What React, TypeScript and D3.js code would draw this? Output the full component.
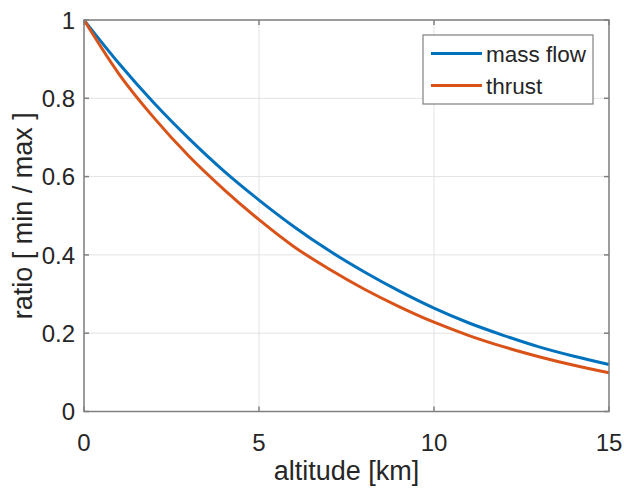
import React from "react";
import * as d3 from "d3";

const altitudes = [0, 1, 2, 3, 4, 5, 6, 7, 8, 9, 10, 11, 12, 13, 14, 15];
const massFlow = [1.0, 0.889, 0.788, 0.697, 0.614, 0.54, 0.472, 0.411, 0.357, 0.308, 0.264, 0.226, 0.194, 0.165, 0.141, 0.12];
const thrust = [1.0, 0.862, 0.75, 0.652, 0.567, 0.49, 0.421, 0.364, 0.313, 0.268, 0.228, 0.194, 0.165, 0.14, 0.118, 0.099];
const xTicks = [0, 5, 10, 15];
const yTicks = [0, 0.2, 0.4, 0.6, 0.8, 1];
const seriesNames = ["mass flow", "thrust"];
const seriesColors = ["#0072BD", "#D95319"];

const W = 624;
const H = 490;
const M = { left: 84, right: 609, top: 20, bottom: 411.5 };
const FONT = "'Liberation Sans', Arial, Helvetica, sans-serif";

export default function App() {
  const x = d3.scaleLinear().domain([0, 15]).range([M.left, M.right]);
  const y = d3.scaleLinear().domain([0, 1]).range([M.bottom, M.top]);
  const line = d3
    .line<number>()
    .x((_, i) => x(altitudes[i]))
    .y((d) => y(d))
    .curve(d3.curveMonotoneX);
  const series = [massFlow, thrust];
  const axisColor = "#808080";
  const textColor = "#262626";
  const tickLen = 5;

  return (
    <svg width={W} height={H} style={{ position: "absolute", left: 0, top: 0, background: "#fff" }}>
      <rect x={0} y={0} width={W} height={H} fill="#fff" />
      {/* grid */}
      {xTicks.map((t) => (
        <line key={"gx" + t} x1={x(t)} x2={x(t)} y1={M.top} y2={M.bottom} stroke="#e3e3e3" strokeWidth={1} />
      ))}
      {yTicks.map((t) => (
        <line key={"gy" + t} x1={M.left} x2={M.right} y1={y(t)} y2={y(t)} stroke="#e3e3e3" strokeWidth={1} />
      ))}
      {/* lines */}
      {series.map((s, i) => (
        <path key={"s" + i} d={line(s) || ""} fill="none" stroke={seriesColors[i]} strokeWidth={3} />
      ))}
      {/* box */}
      <rect x={M.left} y={M.top} width={M.right - M.left} height={M.bottom - M.top} fill="none" stroke={axisColor} strokeWidth={1.5} />
      {/* ticks */}
      {xTicks.map((t) => (
        <g key={"tx" + t}>
          <line x1={x(t)} x2={x(t)} y1={M.bottom} y2={M.bottom - tickLen} stroke={axisColor} strokeWidth={1.5} />
          <line x1={x(t)} x2={x(t)} y1={M.top} y2={M.top + tickLen} stroke={axisColor} strokeWidth={1.5} />
          <text x={x(t)} y={451} textAnchor="middle" fontFamily={FONT} fontSize={24} fill={textColor}>
            {d3.format("~g")(t)}
          </text>
        </g>
      ))}
      {yTicks.map((t) => (
        <g key={"ty" + t}>
          <line x1={M.left} x2={M.left + tickLen} y1={y(t)} y2={y(t)} stroke={axisColor} strokeWidth={1.5} />
          <line x1={M.right} x2={M.right - tickLen} y1={y(t)} y2={y(t)} stroke={axisColor} strokeWidth={1.5} />
          <text x={75} y={y(t)} dy="0.36em" textAnchor="end" fontFamily={FONT} fontSize={24} fill={textColor}>
            {d3.format("~g")(t)}
          </text>
        </g>
      ))}
      {/* axis labels */}
      <text x={(M.left + M.right) / 2} y={480} textAnchor="middle" fontFamily={FONT} fontSize={27} fill={textColor}>
        altitude [km]
      </text>
      <text
        transform={`translate(32, ${(M.top + M.bottom) / 2}) rotate(-90)`}
        textAnchor="middle"
        fontFamily={FONT}
        fontSize={27}
        fill={textColor}
      >
        ratio [ min / max ]
      </text>
      {/* legend */}
      <rect x={423} y={35} width={170} height={69} fill="#fff" stroke="#808080" strokeWidth={1.2} />
      {seriesNames.map((n, i) => (
        <g key={"lg" + i}>
          <line x1={431} x2={482} y1={53.5 + i * 32} y2={53.5 + i * 32} stroke={seriesColors[i]} strokeWidth={3} />
          <text x={486} y={53.5 + i * 32} dy="0.36em" fontFamily={FONT} fontSize={22.5} fill={textColor}>
            {n}
          </text>
        </g>
      ))}
    </svg>
  );
}
